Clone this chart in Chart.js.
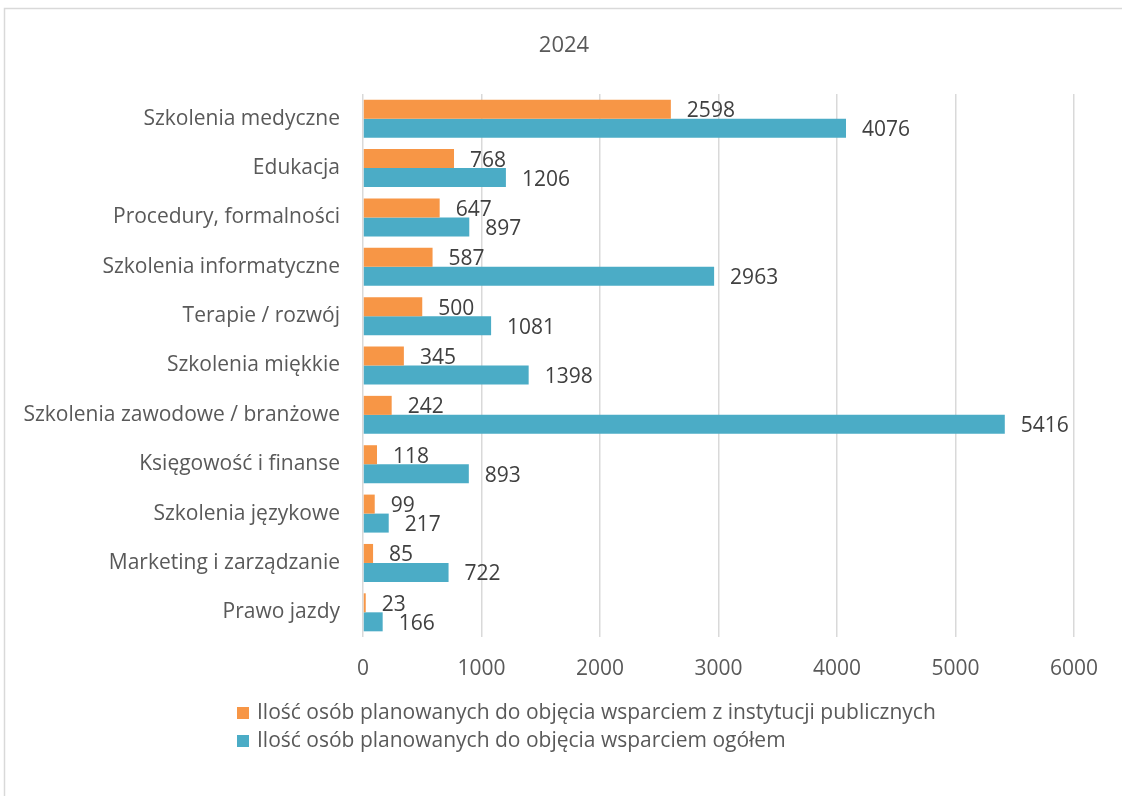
<!DOCTYPE html>
<html>
<head>
<meta charset="utf-8">
<script src="https://cdn.jsdelivr.net/npm/chart.js@4.4.1/dist/chart.umd.min.js"></script>
<style>
html,body{margin:0;padding:0;background:#fff;}
#wrap{position:relative;width:1122px;height:796px;}
canvas{display:block;}
</style>
</head>
<body>
<div id="wrap"><canvas id="c" width="1122" height="796"></canvas></div>
<script>
const chartTitle = "2024";
const categories = [
  "Szkolenia medyczne",
  "Edukacja",
  "Procedury, formalności",
  "Szkolenia informatyczne",
  "Terapie / rozwój",
  "Szkolenia miękkie",
  "Szkolenia zawodowe / branżowe",
  "Księgowość i finanse",
  "Szkolenia językowe",
  "Marketing i zarządzanie",
  "Prawo jazdy"
];
const seriesNames = [
  "Ilość osób planowanych do objęcia wsparciem z instytucji publicznych",
  "Ilość osób planowanych do objęcia wsparciem ogółem"
];
const publicValues = [2598, 768, 647, 587, 500, 345, 242, 118, 99, 85, 23];
const totalValues  = [4076, 1206, 897, 2963, 1081, 1398, 5416, 893, 217, 722, 166];
const xTicks = [0, 1000, 2000, 3000, 4000, 5000, 6000];

const FONT = "'Open Sans', 'Noto Sans', sans-serif";
const colors = ["#F79646", "#4BACC6"];

const framePlugin = {
  id: 'frame',
  beforeDraw(chart) {
    const ctx = chart.ctx;
    ctx.save();
    ctx.fillStyle = '#fff';
    ctx.fillRect(0, 0, chart.width, chart.height);
    ctx.strokeStyle = '#D9D9D9';
    ctx.lineWidth = 1.5;
    ctx.beginPath();
    ctx.moveTo(4.5, chart.height + 2);
    ctx.lineTo(4.5, 8.5);
    ctx.lineTo(chart.width + 2, 8.5);
    ctx.stroke();
    ctx.restore();
  },
  afterDraw(chart) {
    const ctx = chart.ctx;
    ctx.save();
    ctx.font = "22px " + FONT;
    ctx.fillStyle = '#595959';
    ctx.textAlign = 'center';
    ctx.textBaseline = 'middle';
    ctx.fillText(chartTitle, 564, 46);
    ctx.restore();
  }
};

const labelPlugin = {
  id: 'barLabels',
  afterDatasetsDraw(chart) {
    const ctx = chart.ctx;
    ctx.save();
    ctx.font = "21px " + FONT;
    ctx.fillStyle = '#404040';
    ctx.textAlign = 'left';
    ctx.textBaseline = 'middle';
    chart.data.datasets.forEach((ds, di) => {
      const meta = chart.getDatasetMeta(di);
      meta.data.forEach((bar, i) => {
        ctx.fillText(String(ds.data[i]), bar.x + 16, bar.y + 2);
      });
    });
    ctx.restore();
  }
};

const legendPlugin = {
  id: 'customLegend',
  afterDraw(chart) {
    const ctx = chart.ctx;
    ctx.save();
    ctx.font = "21px " + FONT;
    ctx.textBaseline = 'middle';
    ctx.textAlign = 'left';
    const x0 = 237, y0 = 713, rowH = 28;
    chart.data.datasets.forEach((ds, i) => {
      const y = y0 + i * rowH;
      ctx.fillStyle = ds.backgroundColor;
      ctx.fillRect(x0, y - 6, 12, 12);
      ctx.fillStyle = '#595959';
      ctx.fillText(ds.label, x0 + 20, y);
    });
    ctx.restore();
  }
};

new Chart(document.getElementById('c'), {
  type: 'bar',
  data: {
    labels: categories,
    datasets: [
      { label: seriesNames[0], data: publicValues, backgroundColor: colors[0], categoryPercentage: 0.77, barPercentage: 1.0 },
      { label: seriesNames[1], data: totalValues, backgroundColor: colors[1], categoryPercentage: 0.77, barPercentage: 1.0 }
    ]
  },
  options: {
    indexAxis: 'y',
    responsive: false,
    animation: false,
    layout: { padding: { left: 0, right: 48, top: 94, bottom: 0 } },
    plugins: {
      legend: { display: false },
      tooltip: { enabled: false },
      title: { display: false }
    },
    scales: {
      x: {
        min: 0,
        max: 6000,
        afterBuildTicks(scale) { scale.ticks = xTicks.map(v => ({ value: v })); },
        afterFit(scale) { scale.height = 159; },
        grid: { color: '#D9D9D9', lineWidth: 1.5, drawTicks: false },
        border: { display: false },
        ticks: { color: '#595959', font: { family: FONT, size: 21 }, padding: 19, maxRotation: 0,
                 callback: (v) => String(v) }
      },
      y: {
        afterFit(scale) { scale.width = 363; },
        grid: { display: false },
        border: { display: false },
        ticks: { color: '#595959', font: { family: FONT, size: 21 }, padding: 15, autoSkip: false }
      }
    }
  },
  plugins: [framePlugin, labelPlugin, legendPlugin]
});
</script>
</body>
</html>
